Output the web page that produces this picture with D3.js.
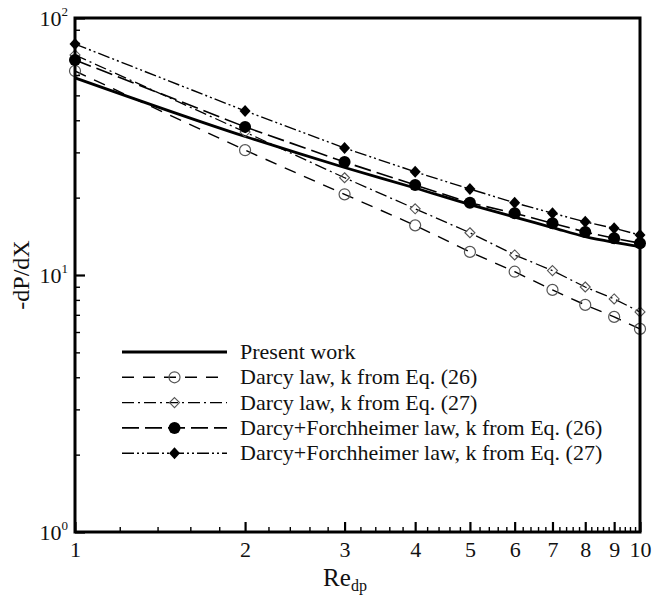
<!DOCTYPE html>
<html>
<head>
<meta charset="utf-8">
<script src="https://cdn.jsdelivr.net/npm/d3@7"></script>
<style>
  body { margin: 0; background: #fff; }
  svg { display: block; }
  text { font-family: "Liberation Serif", "Times New Roman", serif; fill: #111; }
</style>
</head>
<body>
<svg id="chart" width="654" height="599"></svg>
<script>
// Data (log-log)
const reynolds = [1, 2, 3, 4, 5, 6, 7, 8, 9, 10];
const presentWork = [58.5, 34.6, 26.2, 21.8, 18.8, 16.8, 15.3, 14.1, 13.4, 12.9];
const darcy26 = [62.2, 30.6, 20.6, 15.6, 12.3, 10.3, 8.75, 7.65, 6.87, 6.17];
const darcy27 = [71.8, 36.0, 23.9, 18.1, 14.6, 11.97, 10.4, 8.98, 8.07, 7.18];
const forch26 = [68.7, 37.7, 27.5, 22.4, 19.1, 17.4, 15.9, 14.7, 13.9, 13.3];
const forch27 = [79.2, 43.5, 31.2, 25.2, 21.6, 19.1, 17.4, 16.1, 15.2, 14.3];

const seriesLabels = [
  'Present work',
  'Darcy law, k from Eq. (26)',
  'Darcy law, k from Eq. (27)',
  'Darcy+Forchheimer law, k from Eq. (26)',
  'Darcy+Forchheimer law, k from Eq. (27)',
];

const xTickLabels = ['1', '2', '3', '4', '5', '6', '7', '8', '9', '10'];
const yTickExponents = [0, 1, 2];

// //////////////////////////////////////////////////////////////////////////
// Layout
const width = 654;
const height = 599;
const margin = { top: 18, right: 14, bottom: 67, left: 75 };
const innerW = width - margin.left - margin.right;
const innerH = height - margin.top - margin.bottom;

const svg = d3.select('#chart');
const g = svg.append('g').attr('transform', `translate(${margin.left},${margin.top})`);

const x = d3.scaleLog().domain([1, 10]).range([0, innerW]);
const y = d3.scaleLog().domain([1, 100]).range([innerH, 0]);

// series styles: dash pattern, marker type
const styles = [
  { data: presentWork, dash: null, width: 2.8, marker: null },
  { data: darcy26, dash: '12,9', width: 1.4, marker: 'openCircle' },
  { data: darcy27, dash: '12,4,2,4', width: 1.3, marker: 'openDiamond' },
  { data: forch26, dash: '17,6', width: 1.6, marker: 'filledCircle' },
  { data: forch27, dash: '12,3,2,3,2,3', width: 1.4, marker: 'filledDiamond' },
];

const line = d3.line()
  .x((d) => x(d[0]))
  .y((d) => y(d[1]));

const presentLine = d3.line()
  .curve(d3.curveMonotoneX)
  .x((d) => x(d[0]))
  .y((d) => y(d[1]));

// draw a marker at (cx, cy)
const drawMarker = (sel, type, cx, cy) => {
  if (type === 'openCircle') {
    sel.append('circle').attr('cx', cx).attr('cy', cy).attr('r', 5.5)
      .attr('fill', 'none').attr('stroke', '#555').attr('stroke-width', 1.2);
  } else if (type === 'filledCircle') {
    sel.append('circle').attr('cx', cx).attr('cy', cy).attr('r', 6)
      .attr('fill', '#000');
  } else if (type === 'openDiamond') {
    sel.append('path').attr('d', `M${cx},${cy - 5}L${cx + 5},${cy}L${cx},${cy + 5}L${cx - 5},${cy}Z`)
      .attr('fill', 'none').attr('stroke', '#555').attr('stroke-width', 1.1);
  } else if (type === 'filledDiamond') {
    sel.append('path').attr('d', `M${cx},${cy - 6}L${cx + 5.5},${cy}L${cx},${cy + 6}L${cx - 5.5},${cy}Z`)
      .attr('fill', '#000');
  }
};

// //////////////////////////////////////////////////////////////////////////
// Series
const plot = g.append('g').attr('class', 'series');

styles.forEach((s, i) => {
  const pts = reynolds.map((r, j) => [r, s.data[j]]);
  plot.append('path')
    .attr('d', i === 0 ? presentLine(pts) : line(pts))
    .attr('fill', 'none')
    .attr('stroke', '#000')
    .attr('stroke-width', s.width)
    .attr('stroke-dasharray', s.dash);
  if (s.marker) {
    pts.forEach((p) => drawMarker(plot, s.marker, x(p[0]), y(p[1])));
  }
});

// //////////////////////////////////////////////////////////////////////////
// Axes
const xMinor = [];
for (let a = 1; a < 10; a += 1) {
  for (let b = 1; b < 5; b += 1) xMinor.push(a + b * 0.2);
}
const yMinor = [];
[1, 10].forEach((dec) => {
  for (let m = 2; m < 10; m += 1) yMinor.push(m * dec);
});

g.append('g')
  .attr('transform', `translate(0,${innerH})`)
  .call(d3.axisBottom(x).tickValues(xMinor).tickSize(-5).tickFormat(''))
  .call((a) => a.select('.domain').remove())
  .call((a) => a.selectAll('line').attr('stroke-width', 1.4));

g.append('g')
  .attr('transform', `translate(0,${innerH})`)
  .call(d3.axisBottom(x).tickValues(reynolds).tickSize(-10).tickPadding(9)
    .tickFormat((d, i) => xTickLabels[i]))
  .call((a) => a.select('.domain').remove())
  .call((a) => a.selectAll('line').attr('stroke-width', 2.2))
  .call((a) => a.selectAll('text').attr('font-size', 22).attr('fill', '#111'));

g.append('g')
  .call(d3.axisLeft(y).tickValues(yMinor).tickSize(-5).tickFormat(''))
  .call((a) => a.select('.domain').remove())
  .call((a) => a.selectAll('line').attr('stroke-width', 1.4));

g.append('g')
  .call(d3.axisLeft(y).tickValues(yTickExponents.map((e) => 10 ** e)).tickSize(-10).tickFormat(''))
  .call((a) => a.select('.domain').remove())
  .call((a) => a.selectAll('line').attr('stroke-width', 2.2));

// y tick labels as 10^n
yTickExponents.forEach((e) => {
  const t = g.append('text')
    .attr('x', -7)
    .attr('y', y(10 ** e) + 8)
    .attr('text-anchor', 'end')
    .attr('font-size', 22);
  t.append('tspan').text('10');
  t.append('tspan').attr('font-size', 13).attr('dy', -10).text(e);
});

// frame
g.append('rect')
  .attr('width', innerW)
  .attr('height', innerH)
  .attr('fill', 'none')
  .attr('stroke', '#000')
  .attr('stroke-width', 3);

// axis titles
const xt = svg.append('text')
  .attr('x', 345)
  .attr('y', 586)
  .attr('text-anchor', 'middle')
  .attr('font-size', 25);
xt.append('tspan').text('Re');
xt.append('tspan').attr('font-size', 16).attr('dy', 5).text('dp');

svg.append('text')
  .attr('transform', `translate(29,${margin.top + innerH / 2}) rotate(-90)`)
  .attr('text-anchor', 'middle')
  .attr('font-size', 24)
  .text('-dP/dX');

// //////////////////////////////////////////////////////////////////////////
// Legend
const legend = svg.append('g').attr('class', 'legend');
const legendX0 = 122;
const legendX1 = 227;
const legendTop = 352;
const legendStep = 25.3;

styles.forEach((s, i) => {
  const ly = legendTop + i * legendStep;
  legend.append('line')
    .attr('x1', legendX0).attr('x2', legendX1)
    .attr('y1', ly).attr('y2', ly)
    .attr('stroke', '#000')
    .attr('stroke-width', s.width)
    .attr('stroke-dasharray', s.dash);
  if (s.marker) drawMarker(legend, s.marker, (legendX0 + legendX1) / 2, ly);
  legend.append('text')
    .attr('x', 240)
    .attr('y', ly + 7)
    .attr('font-size', 22)
    .text(seriesLabels[i]);
});
</script>
</body>
</html>
